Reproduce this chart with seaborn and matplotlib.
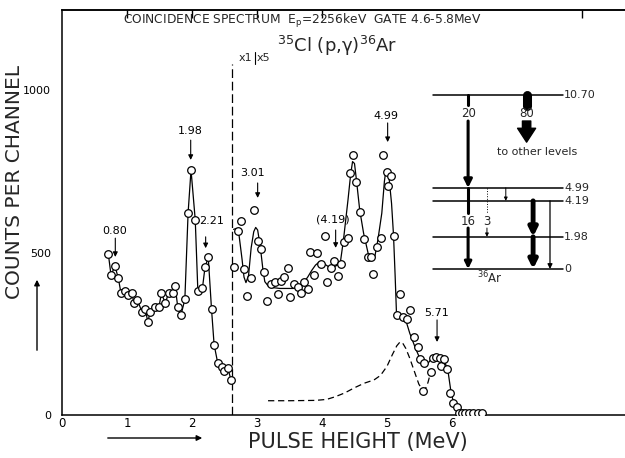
import numpy as np
import pandas as pd
import matplotlib
matplotlib.use("Agg")
import matplotlib.pyplot as plt
import seaborn as sns

# ---------------- data ----------------
# measured points, gain x1 region (below 2.62 MeV)
left_e = [0.713, 0.754, 0.815, 0.867, 0.908, 0.969, 1.02, 1.07, 1.11, 1.16, 1.23, 1.28,
          1.32, 1.36, 1.43, 1.49, 1.53, 1.59, 1.64, 1.71, 1.74, 1.78, 1.83, 1.89, 1.94,
          1.985, 2.05, 2.09, 2.16, 2.20, 2.25, 2.30, 2.34, 2.395, 2.457, 2.497, 2.549, 2.60]
left_c = [496, 431, 459, 421, 375, 383, 370, 375, 346, 354, 318, 326,
          288, 318, 334, 332, 375, 344, 377, 377, 398, 334, 308, 356, 623,
          755, 601, 383, 390, 455, 486, 327, 217, 161, 149, 136, 146, 108]

# measured points, gain x5 region
right_e = [2.64, 2.70, 2.75, 2.80, 2.85, 2.91, 2.96, 3.01, 3.06, 3.11, 3.16, 3.22, 3.27,
           3.32, 3.37, 3.42, 3.47, 3.51, 3.57, 3.63, 3.68, 3.73, 3.78, 3.82, 3.87, 3.93,
           3.98, 4.04, 4.08, 4.14, 4.19, 4.24, 4.29, 4.34, 4.40, 4.43, 4.48, 4.53, 4.59,
           4.65, 4.70, 4.75, 4.79, 4.85, 4.91, 4.94, 5.00, 5.01, 5.06, 5.10, 5.15, 5.20,
           5.24, 5.30, 5.35, 5.42, 5.47, 5.51, 5.56, 5.57, 5.67, 5.70, 5.75, 5.82, 5.83,
           5.87, 5.93, 5.97, 6.02, 6.07, 6.10, 6.15, 6.20, 6.26, 6.33, 6.40, 6.46]
right_c = [457, 567, 599, 449, 368, 421, 632, 537, 512, 442, 351, 404, 409,
           372, 414, 426, 454, 365, 403, 395, 375, 409, 388, 503, 431, 498,
           464, 552, 409, 452, 476, 428, 464, 532, 545, 747, 801, 717, 625,
           541, 486, 486, 434, 519, 545, 801, 748, 707, 737, 553, 308, 372,
           303, 295, 324, 241, 210, 173, 75, 159, 131, 177, 178, 177, 152,
           173, 141, 67, 37, 25, 7, 6, 6, 6, 6, 6, 6]

# fitted spectrum (solid) and response function (dashed)
fit_e = [2.64, 2.68, 2.72, 2.77, 2.80, 2.83, 2.87, 2.91, 2.95, 2.98, 3.01, 3.05, 3.09,
         3.12, 3.17, 3.23, 3.35, 3.48, 3.56, 3.64, 3.71, 3.78, 3.84, 3.90, 3.96, 4.02,
         4.10, 4.20, 4.28, 4.33, 4.37, 4.40, 4.44, 4.47, 4.50, 4.53, 4.58, 4.64, 4.71,
         4.76, 4.81, 4.86, 4.92, 4.96, 4.98, 5.03, 5.07, 5.10, 5.125, 5.145, 5.20, 5.28,
         5.35, 5.43, 5.51, 5.61, 5.69, 5.75, 5.83, 5.89, 5.94, 5.98, 6.02, 6.07]
fit_c = [572, 575, 560, 480, 425, 408, 430, 515, 565, 578, 570, 520, 450,
         411, 398, 393, 390, 390, 390, 393, 406, 425, 445, 462, 472, 468,
         457, 458, 467, 539, 610, 663, 740, 781, 775, 724, 632, 560, 498,
         478, 485, 540, 622, 720, 750, 734, 652, 555, 430, 318, 308, 298,
         252, 210, 172, 154, 175, 185, 178, 164, 133, 77, 41, 26]
resp_e = [3.17, 3.5, 3.9, 4.07, 4.2, 4.35, 4.5, 4.65, 4.8, 4.9, 5.0, 5.08, 5.15, 5.2,
          5.24, 5.29, 5.35, 5.42, 5.49, 5.55, 5.59, 5.63, 5.67]
resp_c = [44, 44, 45, 48, 56, 68, 84, 98, 108, 122, 150, 185, 213, 225,
          222, 205, 175, 135, 95, 76, 80, 100, 130]

# peak annotations: label, label position (MeV, counts), arrow x, arrow top, arrow bottom
peak_labels = ["0.80", "1.98", "2.21", "3.01", "(4.19)", "4.99", "5.71"]
peak_label_e = [0.81, 1.97, 2.30, 2.93, 4.17, 4.99, 5.76]
peak_label_c = [567, 875, 599, 746, 601, 921, 314]
peak_arrow_e = [0.82, 1.98, 2.21, 3.01, 4.21, 5.01, 5.77]
peak_arrow_top = [545, 847, 549, 715, 570, 900, 293]
peak_arrow_bot = [487, 786, 514, 669, 515, 841, 225]

x_ticks = [0, 1, 2, 3, 4, 5, 6]
y_ticks = [0, 500, 1000]
top_ticks = [1, 2, 3, 4, 8]
gain_switch = 2.62

# level scheme of 36Ar
levels = [10.70, 4.99, 4.19, 1.98, 0.0]
level_text = ["10.70", "4.99", "4.19", "1.98", "0"]

# ---------------- style ----------------
sns.set_theme(style="white")
plt.rcParams["font.family"] = ["DejaVu Sans"]
plt.rcParams["axes.linewidth"] = 1.1

fig = plt.figure(figsize=(6.25, 4.58), dpi=100)
ax = fig.add_axes([62 / 625, 43 / 458, 563 / 625, 405 / 458])

pts = pd.DataFrame({"e": left_e + right_e, "c": left_c + right_c})
sns.lineplot(x=left_e, y=left_c, ax=ax, color="black", lw=0.9, estimator=None, sort=False)
sns.lineplot(x=fit_e, y=fit_c, ax=ax, color="black", lw=0.9, estimator=None, sort=False)
sns.lineplot(x=resp_e, y=resp_c, ax=ax, color="black", lw=0.9, estimator=None, sort=False,
             linestyle=(0, (5, 3)))
sns.scatterplot(data=pts, x="e", y="c", ax=ax, marker="o", s=30, facecolor="white",
                edgecolor="black", linewidth=0.9, zorder=4)

ax.axvline(gain_switch, ymin=0, ymax=(415 - 64) / 405,
           color="black", lw=0.9, linestyle=(0, (7, 3)))

ax.set_xlim(0, 563 / 65)
ax.set_ylim(0, 405 / 0.3245)
ax.set_xticks(x_ticks)
ax.set_xticklabels([str(t) for t in x_ticks], fontsize=8.5)
ax.set_yticks(y_ticks)
ax.set_yticklabels([str(t) for t in y_ticks], fontsize=8)
ax.tick_params(axis="x", direction="in", length=8, width=1, pad=1.5, colors="black")
ax.tick_params(axis="y", direction="inout", length=14, width=1, pad=1, colors="black")
ax.spines["right"].set_visible(False)
for s in ["top", "bottom", "left"]:
    ax.spines[s].set_color("black")
sec = ax.secondary_xaxis("top")
sec.set_xticks(top_ticks)
sec.set_xticklabels([])
sec.tick_params(direction="in", length=6, width=1, colors="black")
sec.spines["top"].set_color("black")
ax.set_xlabel("")
ax.set_ylabel("")

# peak labels
for lab, le, lc, ae, at, ab in zip(peak_labels, peak_label_e, peak_label_c,
                                   peak_arrow_e, peak_arrow_top, peak_arrow_bot):
    ax.text(le, lc, lab, fontsize=8, ha="center", va="center", color="black")
    ax.annotate("", xy=(ae, ab), xytext=(ae, at),
                arrowprops=dict(arrowstyle="-|>", lw=0.8, color="black",
                                mutation_scale=7, shrinkA=0, shrinkB=0))

# texts in the frame
fig.text(302 / 625, 1 - 21 / 458,
         "COINCIDENCE SPECTRUM  E$_\\mathregular{p}$=2256keV  GATE 4.6-5.8MeV",
         fontsize=8.8, ha="center", va="center")
fig.text(337 / 625, 1 - 46 / 458, "$^{35}$Cl (p,γ)$^{36}$Ar", fontsize=13,
         ha="center", va="center")
fig.text(252 / 625, 1 - 58 / 458, "x1", fontsize=8, ha="right", va="center")
fig.text(257 / 625, 1 - 58 / 458, "x5", fontsize=8, ha="left", va="center")
fig.add_artist(matplotlib.lines.Line2D([254.5 / 625, 254.5 / 625],
                                       [1 - 52 / 458, 1 - 64 / 458],
                                       transform=fig.transFigure, color="black", lw=0.8))

# axis titles with arrows
fig.text(15 / 625, 1 - 182 / 458, "COUNTS PER CHANNEL", fontsize=14.5, rotation=90,
         ha="center", va="center")
fig.text(358 / 625, 1 - 442 / 458, "PULSE HEIGHT (MeV)", fontsize=15,
         ha="center", va="center")
fig.add_artist(matplotlib.patches.FancyArrowPatch(
    (37 / 625, 1 - 353 / 458), (37 / 625, 1 - 277 / 458), transform=fig.transFigure,
    arrowstyle="-|>", mutation_scale=8, lw=1, color="black"))
fig.add_artist(matplotlib.patches.FancyArrowPatch(
    (105 / 625, 1 - 438 / 458), (205 / 625, 1 - 438 / 458), transform=fig.transFigure,
    arrowstyle="-|>", mutation_scale=8, lw=1, color="black"))

# ---------------- level scheme ----------------
lv = fig.add_axes([433 / 625, 1 - 269 / 458, 130 / 625, 174 / 458])
lv.set_xlim(0, 1)
lv.set_ylim(0, 10.70)
lv.axis("off")
for L, t in zip(levels, level_text):
    lv.plot([0, 1], [L, L], color="black", lw=1.1, clip_on=False)
    lv.text(1.01, L, t, fontsize=8, ha="left", va="center", clip_on=False)

def seg(x, y0, y1, lw=1.0, head=False, hw=6, ls="-"):
    if head:
        lv.annotate("", xy=(x, y1), xytext=(x, y0),
                    arrowprops=dict(arrowstyle="-|>", lw=lw, color="black",
                                    mutation_scale=hw, shrinkA=0, shrinkB=0, linestyle=ls))
    else:
        lv.plot([x, x], [y0, y1], color="black", lw=lw, ls=ls, clip_on=False)

# 20 % branch to 4.99
seg(0.27, 10.70, 10.08, lw=2.2)
lv.text(0.27, 9.59, "20", fontsize=8.5, ha="center", va="center")
seg(0.27, 9.10, 4.99, lw=2.2, head=True, hw=12)
# 80 % to other levels
seg(0.72, 10.70, 10.05, lw=6.5)
lv.text(0.72, 9.59, "80", fontsize=8.5, ha="center", va="center")
lv.annotate("", xy=(0.72, 7.80), xytext=(0.72, 9.10),
            arrowprops=dict(width=6, headwidth=13, headlength=10, color="black", shrink=0))
lv.text(0.80, 7.2, "to other levels", fontsize=8, ha="center", va="center")
# 16 % from 4.99 to 0
seg(0.27, 4.99, 3.44, lw=2.2)
lv.text(0.27, 2.95, "16", fontsize=8.5, ha="center", va="center")
seg(0.27, 2.52, 0.0, lw=2.2, head=True, hw=10)
# 3 % from 4.99 to 1.98
seg(0.415, 4.99, 3.44, lw=0.7, ls=":")
lv.text(0.415, 2.95, "3", fontsize=8.5, ha="center", va="center")
seg(0.415, 2.52, 1.98, lw=0.7, head=True, hw=5)
# 1 % from 4.99 to 4.19
seg(0.56, 4.99, 4.19, lw=0.7, head=True, hw=5)
# 4.19 -> 1.98 -> 0 strong cascade
seg(0.77, 4.19, 1.98, lw=3.5, head=True, hw=12)
seg(0.77, 1.98, 0.0, lw=3.5, head=True, hw=12)
# 4.19 -> 0 weak
seg(0.90, 4.19, 0.0, lw=0.9, head=True, hw=7)
lv.text(0.44, -0.55, "$^{36}$Ar", fontsize=8.5, ha="center", va="center")

fig.savefig("out.png", dpi=100)
